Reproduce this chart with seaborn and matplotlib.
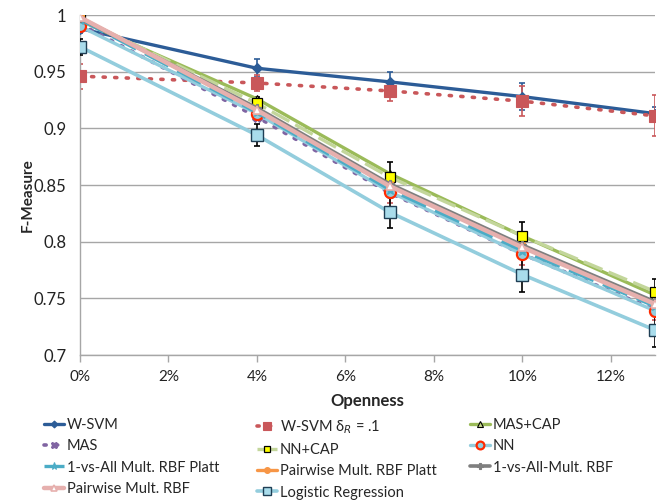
import numpy as np
import pandas as pd
import matplotlib
matplotlib.use("Agg")
import matplotlib.pyplot as plt
import seaborn as sns

openness = [0, 4, 7, 10, 13]
x_ticks = [0, 2, 4, 6, 8, 10, 12]
x_tick_labels = ["0%", "2%", "4%", "6%", "8%", "10%", "12%"]
y_ticks = [0.7, 0.75, 0.8, 0.85, 0.9, 0.95, 1.0]
y_tick_labels = ["0.7", "0.75", "0.8", "0.85", "0.9", "0.95", "1"]

wsvm = [0.988, 0.953, 0.941, 0.928, 0.913]
wsvm_err = [0.004, 0.008, 0.009, 0.012, 0.006]
wsvm_d = [0.946, 0.940, 0.933, 0.924, 0.911]
wsvm_d_err = [0.011, 0.007, 0.009, 0.013, 0.018]
mas_cap = [0.995, 0.926, 0.860, 0.805, 0.753]
mas = [0.992, 0.910, 0.843, 0.789, 0.740]
nn_cap = [0.997, 0.922, 0.857, 0.805, 0.756]
nn_cap_err = [0.004, 0.006, 0.013, 0.012, 0.011]
nn = [0.990, 0.913, 0.844, 0.789, 0.739]
nn_err = [0.004, 0.006, 0.010, 0.010, 0.008]
ova_platt = [0.996, 0.914, 0.846, 0.792, 0.743]
pw_platt = [0.998, 0.916, 0.850, 0.796, 0.746]
ova_rbf = [0.997, 0.918, 0.851, 0.797, 0.747]
pw_rbf = [0.998, 0.916, 0.849, 0.795, 0.745]
logreg = [0.972, 0.894, 0.826, 0.771, 0.722]
logreg_err = [0.007, 0.010, 0.014, 0.015, 0.015]

series = [
    ("W-SVM", wsvm, dict(color="#2C5C97", ls="-", lw=2.4, marker="D", ms=5, mfc="#2C5C97", mec="#2C5C97")),
    ("W-SVM δ$_R$ = .1", wsvm_d, dict(color="#C9575A", ls=(0, (0.6, 2.6)), lw=2.6, marker="s", ms=8, mfc="#C9575A", mec="#C9575A", dash_capstyle="round")),
    ("MAS+CAP", mas_cap, dict(color="#9BBB59", ls="-", lw=2.4, marker="^", ms=6, mfc="#C8D98C", mec="black", mew=0.8)),
    ("MAS", mas, dict(color="#8064A2", ls=(0, (0.6, 2.6)), lw=2.6, marker="X", ms=7, mfc="#8064A2", mec="#8064A2", dash_capstyle="round")),
    ("NN+CAP", nn_cap, dict(color="#C3D69B", ls=(0, (6, 2)), lw=2.4, marker="s", ms=7, mfc="#FFFF00", mec="black", mew=0.9)),
    ("NN", nn, dict(color="#93CDDD", ls="-", lw=2.4, marker="o", ms=8, mfc="#93CDDD", mec="#FF2A00", mew=1.6)),
    ("1-vs-All Mult. RBF Platt", ova_platt, dict(color="#4BACC6", ls=(0, (8, 3)), lw=2.4, marker="*", ms=8, mfc="#4BACC6", mec="#4BACC6")),
    ("Pairwise Mult. RBF Platt", pw_platt, dict(color="#F79646", ls="-", lw=2.4, marker="o", ms=6, mfc="#F79646", mec="#F79646")),
    ("1-vs-All-Mult. RBF", ova_rbf, dict(color="#7F7F7F", ls="-", lw=2.6, marker="P", ms=6, mfc="#7F7F7F", mec="#7F7F7F")),
    ("Pairwise Mult. RBF", pw_rbf, dict(color="#E6B0AE", ls="-", lw=3.2, marker="^", ms=6, mfc="white", mec="#E6B0AE", mew=1.2)),
    ("Logistic Regression", logreg, dict(color="#93CDDD", ls="-", lw=2.6, marker="s", ms=8, mfc="#A9DCEB", mec="#1F3F55", mew=1.0)),
]

errs = {
    "W-SVM": (wsvm_err, "#2C5C97"),
    "W-SVM δ$_R$ = .1": (wsvm_d_err, "#C9575A"),
    "NN+CAP": (nn_cap_err, "black"),
    "NN": (nn_err, "#C9575A"),
    "Logistic Regression": (logreg_err, "black"),
}

sns.set_theme(style="white")
plt.rcParams["font.family"] = ["Lato", "DejaVu Sans"]

fig = plt.figure(figsize=(6.67, 5.0), dpi=100)
ax = fig.add_axes([0.12, 0.29, 0.862, 0.68])

handles = {}
for i, (name, vals, st) in enumerate(series):
    df = pd.DataFrame({"x": openness, "y": vals})
    if name in errs:
        e, ec = errs[name]
        ax.errorbar(openness, vals, yerr=e, fmt="none", ecolor=ec, elinewidth=1.2, capsize=2.5, capthick=1.2, zorder=2 + i * 0.1)
    st = dict(st)
    sns.lineplot(data=df, x="x", y="y", ax=ax, color=st.pop("color"), linestyle=st.pop("ls"),
                 linewidth=st.pop("lw"), marker=st.pop("marker"), markersize=st.pop("ms"),
                 markerfacecolor=st.pop("mfc"), markeredgecolor=st.pop("mec"),
                 markeredgewidth=st.pop("mew", 0.8), label=name, zorder=3 + i * 0.1, **st)
    handles[name] = ax.get_lines()[-1]

ax.set_xlim(0, 13)
ax.set_ylim(0.7, 1.0)
ax.set_xticks(x_ticks)
ax.set_xticklabels(x_tick_labels, fontsize=11, color="#222222")
ax.set_yticks(y_ticks)
ax.set_yticklabels(y_tick_labels, fontsize=12, color="#222222")
ax.yaxis.grid(True, color="#A6A6A6", lw=1.0)
ax.xaxis.grid(False)
for s in ["top", "right"]:
    ax.spines[s].set_visible(False)
for s in ["left", "bottom"]:
    ax.spines[s].set_color("#A6A6A6")
    ax.spines[s].set_linewidth(1.0)
ax.tick_params(axis="x", which="major", direction="out", length=5, width=1, color="#A6A6A6", bottom=True, pad=6)
ax.tick_params(axis="y", length=0, pad=10)
ax.set_xlabel("Openness", fontsize=12, fontweight="bold", labelpad=6)
ax.set_ylabel("F-Measure", fontsize=11, fontweight="bold")
ax.yaxis.set_label_coords(-0.078, 0.47)
if ax.legend_:
    ax.legend_.remove()

names = [s[0] for s in series]
columns = [[0, 3, 6, 9], [1, 4, 7, 10], [2, 5, 8]]
col_x = [44 / 667, 257 / 667, 470 / 667]
for cx, col in zip(col_x, columns):
    hs = [handles[names[k]] for k in col]
    lb = [names[k] for k in col]
    fig.legend(hs, lb, loc="upper left", bbox_to_anchor=(cx, 0.164), ncol=1, frameon=False,
               fontsize=10.5, handlelength=1.4, handletextpad=0.15,
               labelspacing=0.5, borderaxespad=0, borderpad=0, markerscale=0.7)

fig.savefig("out.png", dpi=100)
